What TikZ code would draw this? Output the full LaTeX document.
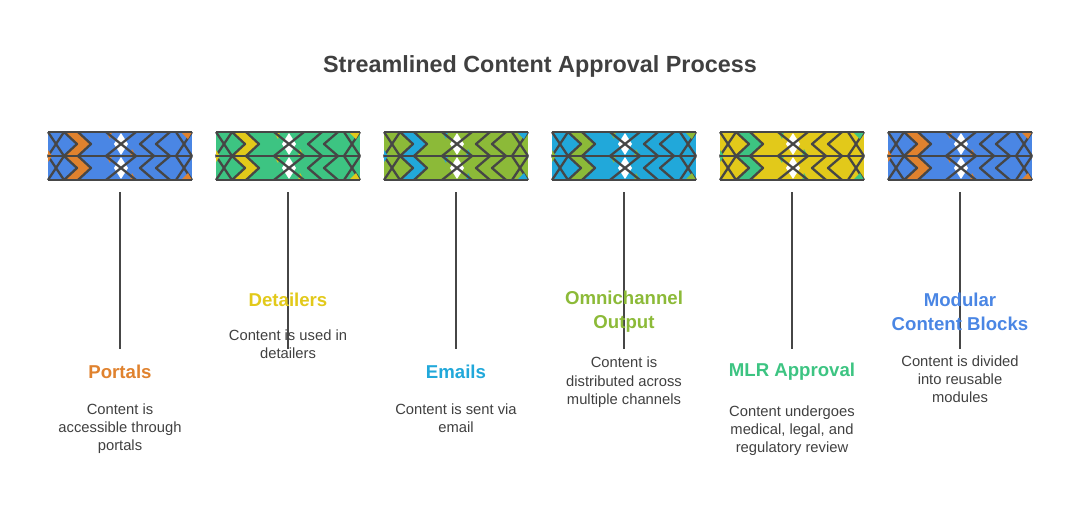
\documentclass[tikz,border=0pt]{standalone}
\usepackage{fontspec}
\setmainfont{Liberation Sans}
\usetikzlibrary{positioning}
\definecolor{pgorange}{RGB}{224,130,46}
\definecolor{pgblue}{RGB}{74,134,228}
\definecolor{pgyellow}{RGB}{226,201,26}
\definecolor{pggreen}{RGB}{61,196,130}
\definecolor{pgolive}{RGB}{140,186,56}
\definecolor{pgcyan}{RGB}{33,168,218}
\definecolor{pgline}{RGB}{70,70,70}
\definecolor{pgtext}{RGB}{64,64,64}

% one patterned band, #1 = left x, #2 = main colour, #3 = accent colour
\newcommand{\pgband}[3]{%
  \begin{scope}[shift={(#1,132)}]
    \fill[#2] (0,0) rectangle (144,48);
    \foreach \yo in {0,24} {
      \begin{scope}[shift={(0,\yo)}]
        \fill[#3] (16,0) -- (30,0) -- (43,12) -- (30,24) -- (16,24) -- (29,12) -- cycle;
        \fill[#3] (64,0) -- (58,0) -- (62,7) -- cycle;
        \fill[#3] (82,24) -- (88,24) -- (84,17) -- cycle;
        \fill[white] (73,1) -- (80,12) -- (73,23) -- (66,12) -- cycle;
        \draw[band] (0,0) -- (8,12) -- (0,24) (16,0) -- (8,12) -- (16,24);
        \draw[band] (16,0) -- (29,12) -- (16,24) (30,0) -- (43,12) -- (30,24);
        \draw[band] (58,0) -- (88,24) (88,0) -- (58,24);
        \draw[band] (106,0) -- (92,12) -- (106,24) (122,0) -- (108,12) -- (122,24);
        \draw[band] (144,0) -- (136,12) -- (144,24) (128,0) -- (136,12) -- (128,24);
      \end{scope}
    }
    \fill[#3] (0,18) -- (4,24) -- (0,30) -- cycle;
    \fill[#3] (144,0) -- (133,0) -- (140,7) -- cycle;
    \fill[#3] (144,48) -- (133,48) -- (140,41) -- cycle;
    \draw[band] (0,0) -- (144,0) (0,24) -- (144,24) (0,48) -- (144,48);
  \end{scope}}

\begin{document}
\begin{tikzpicture}[x=0.02cm, y=-0.02cm,
  band/.style={pgline, line width=1.3pt, line join=round},
  stem/.style={pgline, line width=1.1pt},
  head/.style={font=\bfseries\fontsize{10.6}{13.5}\selectfont, align=center},
  desc/.style={font=\fontsize{8.4}{10.3}\selectfont, text=pgtext, align=center}]
  \useasboundingbox (0,0) rectangle (1080,528);

  % Title
  \node[font=\bfseries\fontsize{13.3}{16}\selectfont, text=pgtext] (title) at (540,66)
    {Streamlined Content Approval Process};

  % Bands
  \pgband{48}{pgblue}{pgorange}
  \pgband{216}{pggreen}{pgyellow}
  \pgband{384}{pgolive}{pgcyan}
  \pgband{552}{pgcyan}{pgolive}
  \pgband{720}{pgyellow}{pggreen}
  \pgband{888}{pgblue}{pgorange}

  % Stem ends
  \foreach \cx/\nm in {120/a, 288/b, 456/c, 624/d, 792/e, 960/f} {
    \coordinate (top\nm) at (\cx,192);
    \coordinate (bot\nm) at (\cx,349);
  }
  \foreach \nm in {a,b,c,d,e,f} \draw[stem] (top\nm) -- (bot\nm);

  % Labels
  \node[head, text=pgorange] (portals) at (120,372) {Portals};
  \node[desc, below=7pt of portals] (portalsdesc)
    {Content is\\accessible through\\portals};
  \node[head, text=pgyellow] (detailers) at (288,300) {Detailers};
  \node[desc, below=6pt of detailers] (detailersdesc)
    {Content is used in\\detailers};
  \node[head, text=pgcyan] (emails) at (456,372) {Emails};
  \node[desc, below=7pt of emails] (emailsdesc)
    {Content is sent via\\email};
  \node[head, text=pgolive] (omni) at (624,312) {Omnichannel\\Output};
  \node[desc, below=7pt of omni] (omnidesc)
    {Content is\\distributed across\\multiple channels};
  \node[head, text=pggreen] (mlr) at (792,372) {MLR Approval};
  \node[desc, below=7pt of mlr] (mlrdesc)
    {Content undergoes\\medical, legal, and\\regulatory review};
  \node[head, text=pgblue] (modular) at (960,312) {Modular\\Content Blocks};
  \node[desc, below=7pt of modular] (modulardesc)
    {Content is divided\\into reusable\\modules};
\end{tikzpicture}
\end{document}
